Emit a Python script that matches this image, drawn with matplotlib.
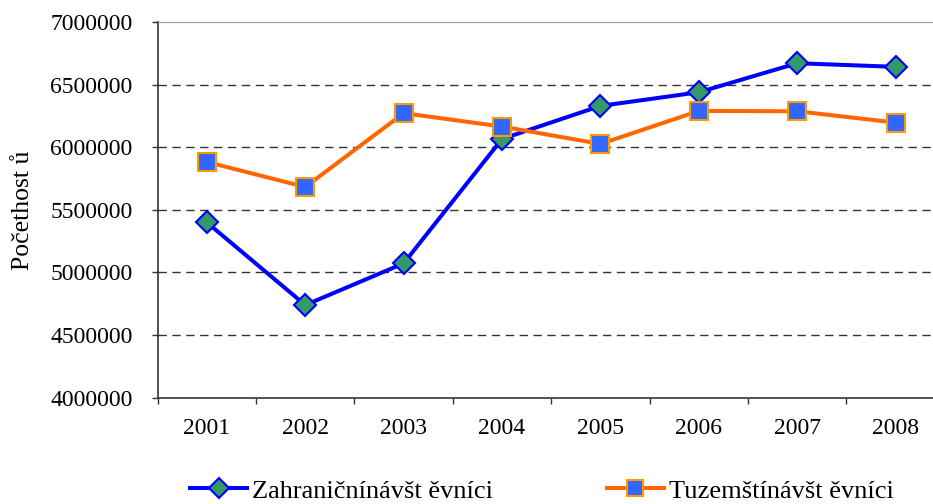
import matplotlib.pyplot as plt

plt.rcParams["font.family"] = ["Liberation Serif", "DejaVu Serif"]

years = ["2001", "2002", "2003", "2004", "2005", "2006", "2007", "2008"]
zahranicni = [5400000, 4740000, 5073000, 6067000, 6331000, 6440000, 6672000, 6643000]
tuzemsti = [5883000, 5683000, 6273000, 6166000, 6027000, 6291000, 6288000, 6198000]
y_ticks = [4000000, 4500000, 5000000, 5500000, 6000000, 6500000, 7000000]

fig = plt.figure(figsize=(9.33, 5.04), dpi=100)
ax = fig.add_axes([0.169, 0.211, 0.831, 0.745])

x = list(range(len(years)))
ax.plot(x, zahranicni, color="#0000FF", lw=2.9, marker="D", markersize=11,
        markerfacecolor="#339966", markeredgecolor="#0000FF", markeredgewidth=1.5,
        label="Zahraničnínávšt ěvníci", zorder=3)
ax.plot(x, tuzemsti, color="#FF6600", lw=2.9, marker="s", markersize=13,
        markerfacecolor="#3366FF", markeredgecolor="#FF9900", markeredgewidth=1.5,
        label="Tuzemštínávšt ěvníci", zorder=3)

ax.set_ylim(4000000, 7000000)
ax.set_xlim(-0.5, 7.38)
ax.set_yticks(y_ticks)
ax.set_yticklabels([str(v) for v in y_ticks])
ax.set_xticks([i - 0.5 for i in range(len(years))])
ax.set_xticklabels([])
ax.set_xticks(x, minor=True)
ax.set_xticklabels(years, minor=True)
ax.tick_params(axis="x", which="minor", length=0, pad=15, labelsize=17)
ax.tick_params(axis="x", which="major", length=4, width=1, color="#333333")
ax.tick_params(axis="y", length=4, width=1, color="#333333", pad=14, labelsize=17)

for v in y_ticks[1:-1]:
    ax.axhline(v, color="#333333", lw=1, ls=(0, (6, 4)), zorder=1)

ax.spines["right"].set_visible(False)
ax.spines["top"].set_color("#999999")
ax.spines["left"].set_color("#333333")
ax.spines["bottom"].set_color("#333333")
ax.spines["left"].set_linewidth(1.2)
ax.spines["bottom"].set_linewidth(1.2)

ax.set_ylabel("Počethost ů", fontsize=18.5)
ax.yaxis.set_label_coords(-0.16, 0.5)

handles, labels = ax.get_legend_handles_labels()
fig.legend(handles, labels, loc="center", bbox_to_anchor=(0.581, 0.026), ncol=2,
           frameon=False, fontsize=19, handlelength=2.15, handletextpad=0.2,
           columnspacing=4.3, markerscale=0.9, borderpad=0)

fig.savefig("out.png", dpi=100)
